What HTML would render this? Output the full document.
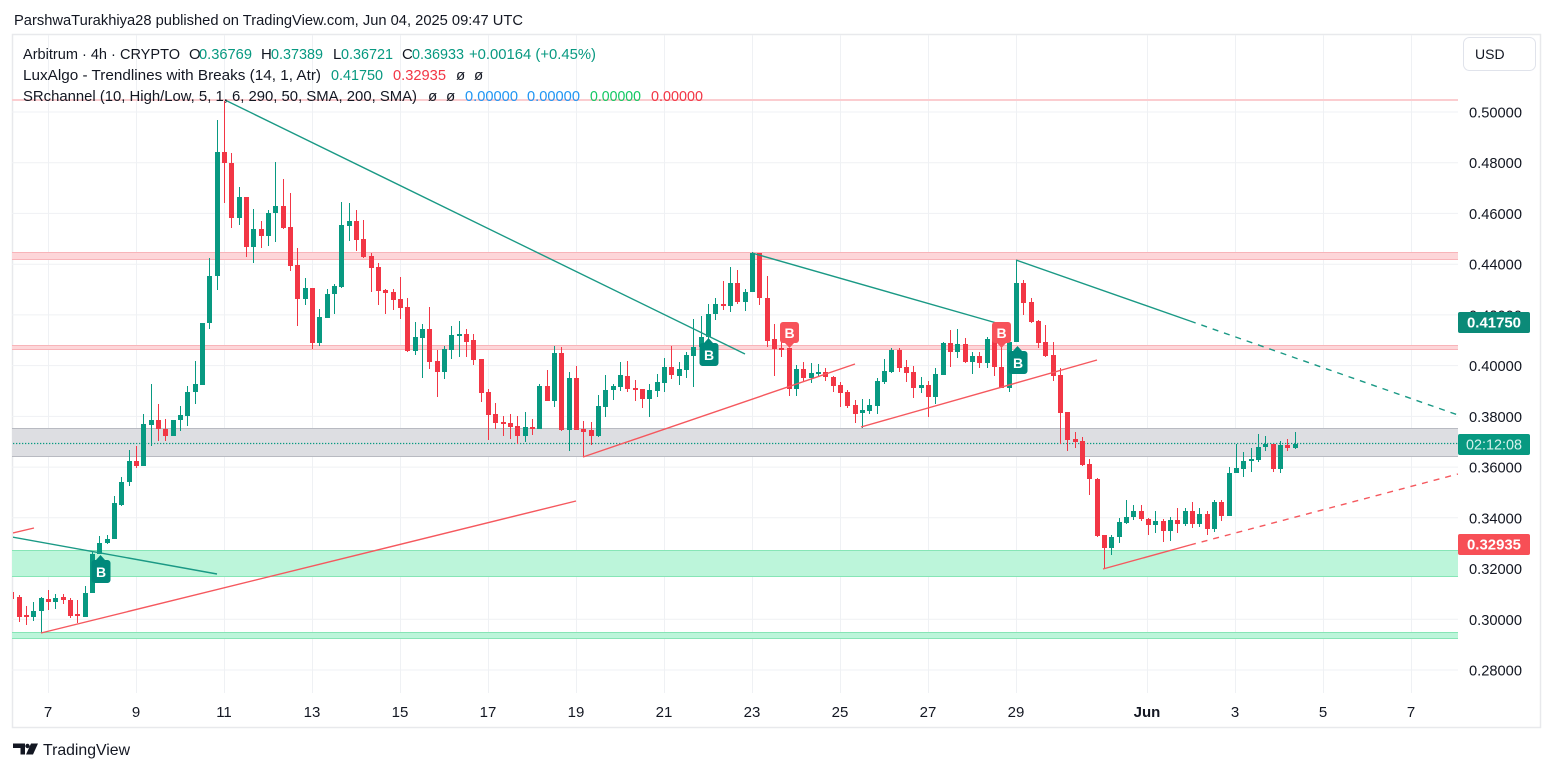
<!DOCTYPE html>
<html><head><meta charset="utf-8"><style>html,body{margin:0;padding:0;background:#fff;}svg{display:block;font-family:"Liberation Sans",sans-serif;}</style></head>
<body>
<svg width="1553" height="772" viewBox="0 0 1553 772" xmlns="http://www.w3.org/2000/svg">
<defs><clipPath id="c"><rect x="13" y="35" width="1445" height="658"/></clipPath></defs>
<rect width="1553" height="772" fill="#fff"/>
<text x="14" y="25" font-size="15" fill="#131722" textLength="509" lengthAdjust="spacingAndGlyphs">ParshwaTurakhiya28 published on TradingView.com, Jun 04, 2025 09:47 UTC</text>
<rect x="12.5" y="34.5" width="1528" height="693" fill="none" stroke="#e8e9ec" stroke-width="1.5"/>
<g stroke="#eff1f4" stroke-width="1">
<path d="M12 112H1458M12 162.7H1458M12 213.4H1458M12 264.2H1458M12 314.9H1458M12 365.6H1458M12 416.4H1458M12 467.1H1458M12 517.8H1458M12 568.5H1458M12 619.3H1458M12 670H1458"/>
<path d="M48.5 35V693M136.5 35V693M224.5 35V693M312.5 35V693M400.5 35V693M488.5 35V693M576.5 35V693M664.5 35V693M752.5 35V693M840.5 35V693M928.5 35V693M1016.5 35V693M1147.5 35V693M1235.5 35V693M1323.5 35V693M1411.5 35V693"/>
</g>
<g>
<rect x="12" y="99" width="1446" height="2" fill="#fbcdd0"/>
<rect x="12" y="252" width="1446" height="8" fill="#fdd6d9"/>
<path d="M12 252.5H1458M12 259.5H1458" stroke="#f8b4b9"/>
<rect x="12" y="345.5" width="1446" height="4" fill="#fdd6d9"/>
<path d="M12 345.5H1458M12 349.5H1458" stroke="#f8b4b9"/>
<rect x="12" y="428" width="1446" height="29" fill="#dddee2"/>
<path d="M12 428.5H1458M12 456.5H1458" stroke="#b8bac1"/>
<rect x="12" y="550" width="1446" height="27" fill="#bcf5da"/>
<path d="M12 550.5H1458M12 576.5H1458" stroke="#86e5b6"/>
<rect x="12" y="632.5" width="1446" height="6" fill="#bcf5da"/>
<path d="M12 632.5H1458M12 638.5H1458" stroke="#86e5b6"/>
</g>
<path d="M13 443.5H1458" stroke="#089981" stroke-width="1.3" stroke-dasharray="1.3 1.7"/>
<g clip-path="url(#c)">
<path fill="none" stroke="#089981" stroke-width="1" d="M33.5 602V621M41.5 597V633M55.5 594V609M85.5 586V617M92.5 552V593M99.5 536V554M107.5 535V544M114.5 496V539M121.5 477V506M129.5 450V486M143.5 414V466M151.5 384V446M173.5 420V436M180.5 406V431M187.5 386V426M195.5 361V404M202.5 323V385M209.5 258V329M217.5 120V290M239.5 187V225M253.5 209V263M268.5 210V246M275.5 162V242M305.5 278V305M319.5 309V346M327.5 289V318M334.5 284V314M341.5 202V288M349.5 203V241M415.5 322V355M422.5 324V378M444.5 346V379M451.5 326V359M459.5 321V357M525.5 412V442M539.5 384V429M554.5 346V407M569.5 372V451M598.5 395V437M605.5 375V417M613.5 384V400M620.5 362V391M649.5 384V417M657.5 374V397M664.5 358V392M679.5 362V385M686.5 352V378M693.5 319V387M701.5 316V350M708.5 304V340M715.5 298V320M730.5 267V312M745.5 289V311M752.5 252V292M796.5 365V396M811.5 363V383M818.5 364V377M862.5 399V428M869.5 399V414M877.5 378V414M884.5 359V384M891.5 348V373M921.5 377V393M935.5 368V404M943.5 342V375M957.5 329V358M972.5 352V374M987.5 337V368M1009.5 337V392M1016.5 260V342M1111.5 535V555M1119.5 518V543M1126.5 500V524M1133.5 505V520M1155.5 511V533M1170.5 517V541M1185.5 508V526M1199.5 508V527M1214.5 500V532M1229.5 467V516M1236.5 444V473M1243.5 452V477M1251.5 448V472M1258.5 434V462M1265.5 436V451M1280.5 441V473M1295.5 432V449"/>
<path fill="#089981" d="M31 611h5v6h-5zM39 598h5v13h-5zM53 598h5v4h-5zM83 593h5v24h-5zM90 554h5v39h-5zM97 543h5v11h-5zM105 539h5v4h-5zM112 503h5v36h-5zM119 482h5v23h-5zM127 461h5v21h-5zM141 424h5v42h-5zM149 420h5v5h-5zM171 420h5v16h-5zM178 415h5v5h-5zM185 392h5v24h-5zM193 384h5v8h-5zM200 323h5v62h-5zM207 276h5v47h-5zM215 152h5v124h-5zM237 197h5v21h-5zM251 229h5v18h-5zM266 213h5v23h-5zM273 206h5v7h-5zM303 288h5v11h-5zM317 317h5v26h-5zM325 294h5v24h-5zM332 286h5v8h-5zM339 225h5v62h-5zM347 221h5v5h-5zM413 337h5v14h-5zM420 329h5v9h-5zM442 349h5v23h-5zM449 335h5v15h-5zM457 334h5v2h-5zM523 427h5v9h-5zM537 386h5v43h-5zM552 353h5v48h-5zM567 378h5v52h-5zM596 406h5v30h-5zM603 390h5v17h-5zM611 386h5v4h-5zM618 375h5v12h-5zM647 390h5v9h-5zM655 382h5v9h-5zM662 367h5v16h-5zM677 369h5v7h-5zM684 355h5v15h-5zM691 347h5v9h-5zM699 337h5v10h-5zM706 314h5v23h-5zM713 304h5v10h-5zM728 283h5v23h-5zM743 292h5v10h-5zM750 253h5v39h-5zM794 369h5v20h-5zM809 373h5v5h-5zM816 372h5v2h-5zM860 410h5v3h-5zM867 405h5v6h-5zM875 381h5v25h-5zM882 371h5v11h-5zM889 350h5v22h-5zM919 385h5v3h-5zM933 374h5v23h-5zM941 343h5v32h-5zM955 344h5v8h-5zM970 356h5v6h-5zM985 339h5v24h-5zM1007 342h5v46h-5zM1014 283h5v59h-5zM1109 537h5v11h-5zM1117 522h5v15h-5zM1124 517h5v6h-5zM1131 511h5v6h-5zM1153 521h5v4h-5zM1168 520h5v11h-5zM1183 511h5v13h-5zM1197 514h5v10h-5zM1212 502h5v27h-5zM1227 473h5v43h-5zM1234 468h5v5h-5zM1241 461h5v8h-5zM1249 459h5v2h-5zM1256 447h5v13h-5zM1263 444h5v3h-5zM1278 445h5v24h-5zM1293 444h5v4h-5z"/>
<path fill="none" stroke="#f23645" stroke-width="1" d="M11.5 590V602M19.5 595V622M26.5 606V625M48.5 590V610M63.5 594V604M70.5 598V618M77.5 600V623M136.5 446V468M158.5 404V441M165.5 419V441M224.5 101V203M231.5 153V228M246.5 197V257M261.5 221V248M283.5 179V229M290.5 193V271M297.5 248V326M312.5 288V349M356.5 210V251M363.5 220V258M371.5 253V292M378.5 263V305M385.5 289V314M393.5 289V310M400.5 277V319M407.5 298V352M429.5 307V369M437.5 350V397M466.5 329V357M473.5 334V365M481.5 359V402M488.5 389V440M495.5 403V429M503.5 416V436M510.5 414V439M517.5 416V444M532.5 419V435M547.5 370V401M561.5 347V431M576.5 366V430M583.5 421V457M591.5 422V445M627.5 361V392M635.5 380V401M642.5 389V408M671.5 346V379M723.5 281V310M737.5 270V304M759.5 253V305M767.5 276V347M774.5 324V376M781.5 324V357M789.5 348V396M803.5 362V381M825.5 368V381M833.5 376V392M840.5 382V407M847.5 390V408M855.5 400V423M899.5 348V372M906.5 360V382M913.5 366V398M928.5 381V417M950.5 330V367M965.5 338V363M979.5 352V368M994.5 337V376M1001.5 341V388M1023.5 280V315M1031.5 298V323M1038.5 320V348M1045.5 325V357M1053.5 342V381M1060.5 368V444M1067.5 412V451M1075.5 432V448M1082.5 437V466M1089.5 459V495M1097.5 478V537M1104.5 535V569M1141.5 505V521M1148.5 518V535M1163.5 519V542M1177.5 508V533M1192.5 502V528M1207.5 511V535M1221.5 500V521M1273.5 444V472M1287.5 439V451"/>
<path fill="#f23645" d="M9 592h5v7h-5zM17 597h5v20h-5zM24 615h5v2h-5zM46 599h5v3h-5zM61 597h5v3h-5zM68 600h5v16h-5zM75 614h5v2h-5zM134 461h5v5h-5zM156 420h5v9h-5zM163 429h5v7h-5zM222 152h5v11h-5zM229 163h5v55h-5zM244 197h5v50h-5zM259 229h5v7h-5zM281 206h5v22h-5zM288 227h5v39h-5zM295 265h5v34h-5zM310 288h5v55h-5zM354 221h5v19h-5zM361 239h5v18h-5zM369 256h5v12h-5zM376 267h5v24h-5zM383 290h5v3h-5zM391 292h5v8h-5zM398 299h5v9h-5zM405 307h5v44h-5zM427 329h5v33h-5zM435 361h5v11h-5zM464 334h5v8h-5zM471 340h5v20h-5zM479 359h5v34h-5zM486 392h5v23h-5zM493 414h5v9h-5zM501 422h5v2h-5zM508 423h5v4h-5zM515 426h5v10h-5zM530 427h5v2h-5zM545 386h5v15h-5zM559 353h5v77h-5zM574 378h5v52h-5zM581 429h5v3h-5zM589 430h5v6h-5zM625 376h5v13h-5zM633 388h5v2h-5zM640 389h5v10h-5zM669 367h5v8h-5zM721 304h5v2h-5zM735 283h5v19h-5zM757 253h5v45h-5zM765 298h5v43h-5zM772 339h5v10h-5zM779 348h5v2h-5zM787 348h5v41h-5zM801 369h5v9h-5zM823 372h5v5h-5zM831 377h5v9h-5zM838 385h5v8h-5zM845 392h5v14h-5zM853 405h5v9h-5zM897 350h5v18h-5zM904 367h5v6h-5zM911 372h5v16h-5zM926 385h5v12h-5zM948 343h5v9h-5zM963 344h5v18h-5zM977 356h5v7h-5zM992 339h5v28h-5zM999 367h5v21h-5zM1021 283h5v20h-5zM1029 302h5v20h-5zM1036 321h5v22h-5zM1043 342h5v14h-5zM1051 355h5v21h-5zM1058 375h5v38h-5zM1065 412h5v28h-5zM1073 439h5v3h-5zM1080 441h5v24h-5zM1087 464h5v15h-5zM1095 479h5v57h-5zM1102 535h5v13h-5zM1139 511h5v8h-5zM1146 519h5v6h-5zM1161 521h5v10h-5zM1175 520h5v4h-5zM1190 511h5v13h-5zM1205 514h5v15h-5zM1219 502h5v14h-5zM1271 444h5v25h-5zM1285 445h5v3h-5z"/>
<g fill="none" stroke-width="1.4">
<path stroke="#1a9985" d="M12 537L217 574M225 100L745 354M752 253L1000 324M1016 260L1190 321"/>
<path stroke="#1a9985" stroke-dasharray="6 6" d="M1190 321L1458 415"/>
<path stroke="#f5585e" d="M13 533L34 528M41 633L576 501M583 457L855 364M861 427L1097 360M1103 569L1190 545"/>
<path stroke="#f5585e" stroke-dasharray="6 6" d="M1190 545L1458 474"/>
</g>
</g>
<g font-size="14" font-weight="bold" fill="#fff" text-anchor="middle">
<path fill="#00897b" d="M91.5 563a3 3 0 0 1 3-3h13a3 3 0 0 1 3 3v17a3 3 0 0 1-3 3h-13a3 3 0 0 1-3-3zM96 560l4.5-5 4.5 5z"/>
<text x="101" y="577">B</text>
<path fill="#00897b" d="M699.5 346a3 3 0 0 1 3-3h13a3 3 0 0 1 3 3v17a3 3 0 0 1-3 3h-13a3 3 0 0 1-3-3zM704 343l4.5-5 4.5 5z"/>
<text x="709" y="360">B</text>
<path fill="#00897b" d="M1008.5 354a3 3 0 0 1 3-3h13a3 3 0 0 1 3 3v17a3 3 0 0 1-3 3h-13a3 3 0 0 1-3-3zM1013 351l4.5-5 4.5 5z"/>
<text x="1018" y="368">B</text>
<path fill="#f7525a" d="M780 325a3 3 0 0 1 3-3h13a3 3 0 0 1 3 3v15a3 3 0 0 1-3 3h-13a3 3 0 0 1-3-3zM785 343l4.5 5 4.5-5z"/>
<text x="789.5" y="338">B</text>
<path fill="#f7525a" d="M992 325a3 3 0 0 1 3-3h13a3 3 0 0 1 3 3v15a3 3 0 0 1-3 3h-13a3 3 0 0 1-3-3zM997 343l4.5 5 4.5-5z"/>
<text x="1001.5" y="338">B</text>
</g>
<g font-size="15" fill="#131722">
<text x="23" y="59" textLength="157" lengthAdjust="spacingAndGlyphs">Arbitrum · 4h · CRYPTO</text>
<text x="189" y="59">O</text><text x="199" y="59" fill="#089981" textLength="53" lengthAdjust="spacingAndGlyphs">0.36769</text>
<text x="261" y="59">H</text><text x="271" y="59" fill="#089981" textLength="52" lengthAdjust="spacingAndGlyphs">0.37389</text>
<text x="333" y="59">L</text><text x="341" y="59" fill="#089981" textLength="52" lengthAdjust="spacingAndGlyphs">0.36721</text>
<text x="402" y="59">C</text><text x="412" y="59" fill="#089981" textLength="52" lengthAdjust="spacingAndGlyphs">0.36933</text>
<text x="469" y="59" fill="#089981" textLength="127" lengthAdjust="spacingAndGlyphs">+0.00164 (+0.45%)</text>
<text x="23" y="80" textLength="298" lengthAdjust="spacingAndGlyphs">LuxAlgo - Trendlines with Breaks (14, 1, Atr)</text>
<text x="331" y="80" fill="#089981" textLength="52" lengthAdjust="spacingAndGlyphs">0.41750</text>
<text x="393" y="80" fill="#f23645" textLength="53" lengthAdjust="spacingAndGlyphs">0.32935</text>
<text x="456" y="80">ø</text><text x="474" y="80">ø</text>
<text x="23" y="101" textLength="394" lengthAdjust="spacingAndGlyphs">SRchannel (10, High/Low, 5, 1, 6, 290, 50, SMA, 200, SMA)</text>
<text x="428" y="101">ø</text><text x="446" y="101">ø</text>
<text x="465" y="101" fill="#2196f3" textLength="53" lengthAdjust="spacingAndGlyphs">0.00000</text>
<text x="527" y="101" fill="#2196f3" textLength="53" lengthAdjust="spacingAndGlyphs">0.00000</text>
<text x="590" y="101" fill="#14c864" textLength="51" lengthAdjust="spacingAndGlyphs">0.00000</text>
<text x="651" y="101" fill="#f23645" textLength="52" lengthAdjust="spacingAndGlyphs">0.00000</text>
</g>
<rect x="1463.5" y="37.5" width="72" height="33" rx="6" fill="#fff" stroke="#e0e3eb"/>
<text x="1475" y="59" font-size="14" fill="#131722">USD</text>
<g font-size="15" fill="#131722">
<text x="1469" y="117.5" textLength="53" lengthAdjust="spacingAndGlyphs">0.50000</text>
<text x="1469" y="168.2" textLength="53" lengthAdjust="spacingAndGlyphs">0.48000</text>
<text x="1469" y="218.9" textLength="53" lengthAdjust="spacingAndGlyphs">0.46000</text>
<text x="1469" y="269.7" textLength="53" lengthAdjust="spacingAndGlyphs">0.44000</text>
<text x="1469" y="320.4" textLength="53" lengthAdjust="spacingAndGlyphs">0.42000</text>
<text x="1469" y="371.1" textLength="53" lengthAdjust="spacingAndGlyphs">0.40000</text>
<text x="1469" y="421.9" textLength="53" lengthAdjust="spacingAndGlyphs">0.38000</text>
<text x="1469" y="472.6" textLength="53" lengthAdjust="spacingAndGlyphs">0.36000</text>
<text x="1469" y="523.3" textLength="53" lengthAdjust="spacingAndGlyphs">0.34000</text>
<text x="1469" y="574" textLength="53" lengthAdjust="spacingAndGlyphs">0.32000</text>
<text x="1469" y="624.8" textLength="53" lengthAdjust="spacingAndGlyphs">0.30000</text>
<text x="1469" y="675.5" textLength="53" lengthAdjust="spacingAndGlyphs">0.28000</text>
</g>
<rect x="1458" y="312" width="72" height="21" rx="2" fill="#0b8a78"/>
<text x="1467" y="327.5" font-size="15" font-weight="bold" fill="#fff" textLength="54" lengthAdjust="spacingAndGlyphs">0.41750</text>
<rect x="1458" y="434" width="72" height="21" rx="2" fill="#089981"/>
<text x="1466" y="449.5" font-size="15" fill="#d6f2ec" textLength="56" lengthAdjust="spacingAndGlyphs">02:12:08</text>
<rect x="1458" y="534" width="72" height="21" rx="2" fill="#f74f56"/>
<text x="1467" y="549.5" font-size="15" font-weight="bold" fill="#fff" textLength="54" lengthAdjust="spacingAndGlyphs">0.32935</text>
<g font-size="15" fill="#131722" text-anchor="middle">
<text x="48" y="717">7</text><text x="136" y="717">9</text><text x="224" y="717">11</text><text x="312" y="717">13</text><text x="400" y="717">15</text><text x="488" y="717">17</text><text x="576" y="717">19</text><text x="664" y="717">21</text><text x="752" y="717">23</text><text x="840" y="717">25</text><text x="928" y="717">27</text><text x="1016" y="717">29</text><text x="1147" y="717" font-weight="bold">Jun</text><text x="1235" y="717">3</text><text x="1323" y="717">5</text><text x="1411" y="717">7</text>
</g>
<path fill="#131722" d="M13 743.5h12v11h-4.5v-6.5H13zM31 743.5h7l-5 11h-7z"/>
<circle cx="27.5" cy="746" r="2.2" fill="#131722"/>
<text x="43" y="755" font-size="16" fill="#131722" textLength="87" lengthAdjust="spacingAndGlyphs">TradingView</text>
</svg>
</body></html>
